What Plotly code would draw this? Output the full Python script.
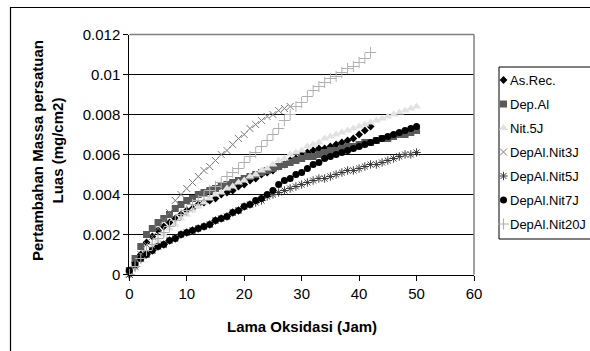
import plotly.graph_objects as go

W, H = 590, 351

# ---------------- data (hours, mass gain mg/cm2) ----------------
series_names = ["As.Rec.", "Dep.Al", "Nit.5J", "DepAl.Nit3J", "DepAl.Nit5J",
                "DepAl.Nit7J", "DepAl.Nit20J"]

as_rec = [0, 0.0006, 0.001, 0.0016, 0.0019, 0.0022, 0.0024, 0.0026, 0.0028, 0.003,
          0.0032, 0.0033, 0.0035, 0.0036, 0.0037, 0.0038, 0.004, 0.0041, 0.0042, 0.0044,
          0.0045, 0.0047, 0.0048, 0.005, 0.0051, 0.0052, 0.0054, 0.0055, 0.0057, 0.0058,
          0.006, 0.0061, 0.0062, 0.0063, 0.0063, 0.0064, 0.0065, 0.0066, 0.0067, 0.0068,
          0.007, 0.0072, 0.0074]

dep_al = [0.0002, 0.0008, 0.0014, 0.002, 0.0023, 0.0026, 0.0028, 0.003, 0.0033, 0.0035,
          0.0037, 0.0038, 0.004, 0.0041, 0.0042, 0.0043, 0.0044, 0.0045, 0.0046, 0.0047,
          0.0048, 0.0049, 0.005, 0.0051, 0.0052, 0.0053, 0.0054, 0.0055, 0.0056, 0.0057,
          0.0058, 0.0059, 0.0059, 0.006, 0.0061, 0.0062, 0.0062, 0.0063, 0.0064, 0.0064,
          0.0065, 0.0066, 0.0066, 0.0067, 0.0068, 0.0068, 0.0069, 0.007, 0.007, 0.0071,
          0.0072]

nit_5j = [0, 0.0003, 0.0007, 0.001, 0.0014, 0.0017, 0.002, 0.0023, 0.0025, 0.0028,
          0.003, 0.0032, 0.0034, 0.0036, 0.0038, 0.004, 0.0041, 0.0043, 0.0044, 0.0046,
          0.0047, 0.0049, 0.005, 0.0052, 0.0053, 0.0055, 0.0057, 0.0058, 0.006, 0.0061,
          0.0062, 0.0064, 0.0065, 0.0066, 0.0068, 0.0069, 0.007, 0.0071, 0.0072, 0.0073,
          0.0074, 0.0075, 0.0076, 0.0077, 0.0078, 0.0079, 0.008, 0.0081, 0.0082, 0.0083,
          0.0084]

depal_nit3j = [0, 0.0005, 0.001, 0.0015, 0.0019, 0.0023, 0.0027, 0.0031, 0.0037, 0.004,
               0.0043, 0.0046, 0.0049, 0.0052, 0.0054, 0.0057, 0.006, 0.0062, 0.0065, 0.0068,
               0.007, 0.0073, 0.0075, 0.0077, 0.0079, 0.008, 0.0082, 0.0083, 0.0084]

depal_nit5j = [0, 0.0004, 0.0008, 0.001, 0.0012, 0.0014, 0.0015, 0.0017, 0.0018, 0.002,
               0.0021, 0.0022, 0.0023, 0.0024, 0.0025, 0.0027, 0.0028, 0.0029, 0.0031, 0.0032,
               0.0034, 0.0035, 0.0036, 0.0037, 0.0039, 0.004, 0.0041, 0.0042, 0.0043, 0.0044,
               0.0045, 0.0046, 0.0047, 0.0048, 0.0048, 0.0049, 0.005, 0.0051, 0.0052, 0.0052,
               0.0053, 0.0054, 0.0055, 0.0055, 0.0056, 0.0057, 0.0058, 0.0059, 0.006, 0.006,
               0.0061]

depal_nit7j = [0.0002, 0.0005, 0.0008, 0.001, 0.0012, 0.0014, 0.0015, 0.0017, 0.0018, 0.002,
               0.0021, 0.0022, 0.0023, 0.0024, 0.0025, 0.0027, 0.0028, 0.0029, 0.0031, 0.0032,
               0.0034, 0.0035, 0.0037, 0.0038, 0.004, 0.0042, 0.0045, 0.0047, 0.0048, 0.005,
               0.0051, 0.0053, 0.0055, 0.0056, 0.0058, 0.0059, 0.006, 0.0061, 0.0062, 0.0063,
               0.0064, 0.0065, 0.0066, 0.0067, 0.0068, 0.0069, 0.007, 0.0071, 0.0072, 0.0073,
               0.0074]

depal_nit20j = [0, 0.0004, 0.0008, 0.0012, 0.0015, 0.0018, 0.0021, 0.0024, 0.0027, 0.003,
                0.0032, 0.0035, 0.0037, 0.0039, 0.0042, 0.0044, 0.0046, 0.0049, 0.0051, 0.0053,
                0.0056, 0.0059, 0.0061, 0.0064, 0.0067, 0.007, 0.0073, 0.0077, 0.008, 0.0084,
                0.0086, 0.0089, 0.0092, 0.0094, 0.0096, 0.0098, 0.0099, 0.0101, 0.0103, 0.0104,
                0.0106, 0.0108, 0.0111]

series_values = [as_rec, dep_al, nit_5j, depal_nit3j, depal_nit5j, depal_nit7j, depal_nit20j]

x_ticks = [0, 10, 20, 30, 40, 50, 60]
y_ticks = [0, 0.002, 0.004, 0.006, 0.008, 0.01, 0.012]
y_tick_labels = ["0", "0.002", "0.004", "0.006", "0.008", "0.01", "0.012"]

x_title = "Lama Oksidasi (Jam)"
y_title_lines = ["Pertambahan Massa persatuan", "Luas (mg/cm2)"]

# ---------------- styles ----------------
FONT = "Liberation Sans, Arial, sans-serif"
styles = [
    dict(symbol="diamond", size=6, color="#000000", line=dict(width=0)),
    dict(symbol="square", size=7, color="#5a5a5a", line=dict(width=0)),
    dict(symbol="triangle-up", size=8, color="#e2e2e2", line=dict(width=0)),
    dict(symbol="x-thin", size=7, color="#7a7a7a", line=dict(width=1, color="#7a7a7a")),
    dict(symbol="asterisk", size=7, color="#3a3a3a", line=dict(width=1, color="#3a3a3a")),
    dict(symbol="circle", size=7, color="#000000", line=dict(width=0)),
    dict(symbol="cross-thin", size=8, color="#b0b0b0", line=dict(width=1, color="#b0b0b0")),
]

# pixel layout
PL, PR, PT, PB = 129.3, 474.0, 34.5, 274.5

fig = go.Figure()
for name, vals, st in zip(series_names, series_values, styles):
    fig.add_trace(go.Scatter(
        x=list(range(len(vals))), y=vals, mode="markers", name=name,
        marker=st, cliponaxis=False, showlegend=False,
        xaxis="x", yaxis="y"))

# manual legend on a full-figure pixel overlay subplot
LEG_L, LEG_T, LEG_B = 499, 67, 239
leg_y0, leg_dy = 80, 24
for i, (name, st) in enumerate(zip(series_names, styles)):
    yy = leg_y0 + i * leg_dy
    fig.add_trace(go.Scatter(
        x=[LEG_L + 4.5], y=[yy], mode="markers", marker=st, cliponaxis=False,
        showlegend=False, xaxis="x2", yaxis="y2", hoverinfo="skip"))
    fig.add_annotation(x=LEG_L + 9, y=yy, xref="x2", yref="y2", text=name,
                       showarrow=False, xanchor="left", yanchor="middle",
                       font=dict(family=FONT, size=13, color="#000"))

shapes = [
    dict(type="rect", xref="x2", yref="y2", x0=10.5, y0=7.5, x1=600, y1=360,
         line=dict(color="#000", width=1.2), layer="below"),
    dict(type="rect", xref="x2", yref="y2", x0=LEG_L, y0=LEG_T, x1=600, y1=LEG_B,
         line=dict(color="#000", width=1), layer="below"),
    dict(type="line", xref="x2", yref="y2", x0=PL, y0=PT, x1=PR, y1=PT,
         line=dict(color="#808080", width=1.5)),
    dict(type="line", xref="x2", yref="y2", x0=PR, y0=PT, x1=PR, y1=PB,
         line=dict(color="#808080", width=1.5)),
]

fig.add_annotation(x=(PL + PR) / 2, y=326, xref="x2", yref="y2",
                   text="<b>" + x_title + "</b>",
                   showarrow=False, xanchor="center", yanchor="middle",
                   font=dict(family=FONT, size=15, color="#000"))
fig.add_annotation(x=47, y=151, xref="x2", yref="y2",
                   text="<br>".join("<b>" + s + "</b>" for s in y_title_lines),
                   showarrow=False, xanchor="center", yanchor="middle", textangle=-90,
                   font=dict(family=FONT, size=15, color="#000"))

fig.update_layout(
    width=W, height=H, margin=dict(l=0, r=0, t=0, b=0, autoexpand=False),
    paper_bgcolor="white", plot_bgcolor="rgba(0,0,0,0)", showlegend=False,
    font=dict(family=FONT, color="#000"),
    xaxis=dict(domain=[PL / W, PR / W], range=[0, 60], tickvals=x_ticks,
               ticks="outside", ticklen=5, tickcolor="#000", showline=True,
               linecolor="#000", linewidth=1, showgrid=False, zeroline=False,
               tickfont=dict(size=15, family=FONT), anchor="y", fixedrange=True),
    yaxis=dict(domain=[(H - PB) / H, (H - PT) / H], range=[0, 0.012],
               tickvals=y_ticks, ticktext=y_tick_labels,
               ticks="outside", ticklen=5, tickcolor="#000", showline=True,
               linecolor="#000", linewidth=1, showgrid=True, gridcolor="#000",
               gridwidth=1, zeroline=False, tickfont=dict(size=15, family=FONT),
               anchor="x", fixedrange=True),
    xaxis2=dict(domain=[0, 1], range=[0, W], visible=False, anchor="y2",
                fixedrange=True),
    yaxis2=dict(domain=[0, 1], range=[H, 0], visible=False, anchor="x2",
                fixedrange=True),
    shapes=shapes,
)

fig.write_html("out.html")
